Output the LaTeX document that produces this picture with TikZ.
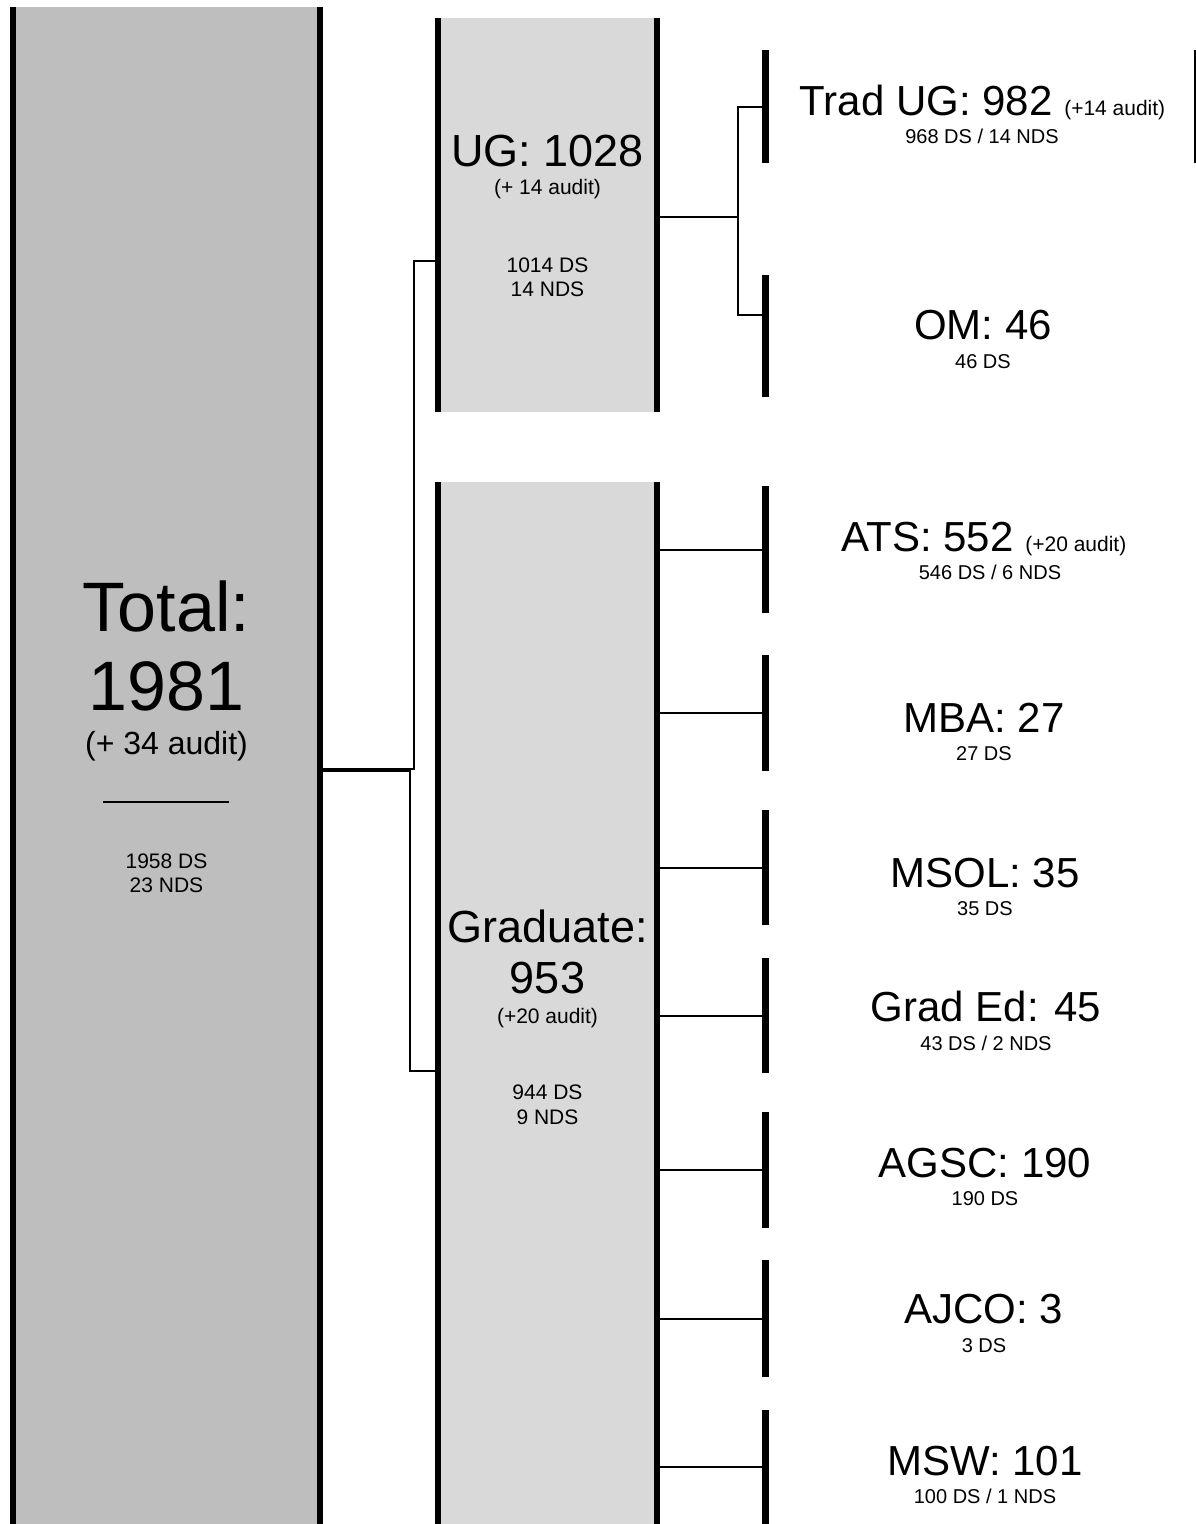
\documentclass[tikz,border=0pt]{standalone}
\usepackage{fontspec}
\setmainfont{Liberation Sans}
\definecolor{bigfill}{HTML}{BEBEBE}
\definecolor{subfill}{HTML}{D9D9D9}
\newcommand\fs[1]{\fontsize{#1}{#1}\selectfont}
\tikzset{
  panel/.style={rectangle, inner sep=0pt, outer sep=0pt, draw=none},
  bigpanel/.style={panel, fill=bigfill},
  subpanel/.style={panel, fill=subfill},
  leafbar/.style={rectangle, inner sep=0pt, outer sep=0pt, fill=black, minimum width=7pt},
  rulebar/.style={rectangle, inner sep=0pt, outer sep=0pt, fill=black, minimum width=126pt, minimum height=2.5pt},
  sideline/.style={line width=6pt},
  conn/.style={line width=2pt},
  thinline/.style={line width=1.5pt},
  lbl/.style={anchor=base, inner sep=0pt, outer sep=0pt, text=black},
}
\begin{document}
\begin{tikzpicture}[x=1pt,y=-1pt]
\useasboundingbox (0,0) rectangle (1196,1524);

% panels
\node[bigpanel, minimum width=307pt, minimum height=1517pt] (total) at (166.5,765.5) {};
\node[subpanel, minimum width=219pt, minimum height=394pt] (ug) at (547.5,215) {};
\node[subpanel, minimum width=219pt, minimum height=1042pt] (grad) at (547.5,1003) {};

% leaf bars
\node[leafbar, minimum height=113pt] (tradbar) at (765.5,106.5) {};
\node[leafbar, minimum height=122pt] (ombar) at (765.5,336) {};
\node[leafbar, minimum height=127pt] (atsbar) at (765.5,549.5) {};
\node[leafbar, minimum height=116pt] (mbabar) at (765.5,713) {};
\node[leafbar, minimum height=115pt] (msolbar) at (765.5,867.5) {};
\node[leafbar, minimum height=115pt] (gradedbar) at (765.5,1015.5) {};
\node[leafbar, minimum height=116pt] (agscbar) at (765.5,1170) {};
\node[leafbar, minimum height=117pt] (ajcobar) at (765.5,1318.5) {};
\node[leafbar, minimum height=114pt] (mswbar) at (765.5,1467) {};

% connectors
\draw[conn] ([yshift=-3.5pt]total.east) -| ([xshift=-24pt,yshift=-46pt]ug.west) -- ([yshift=-46pt]ug.west);
\draw[conn] ([yshift=-5.5pt]total.east) -| ([xshift=-28pt,yshift=-68pt]grad.west) -- ([yshift=-68pt]grad.west);
\draw[conn] ([yshift=-2pt]ug.east) -- ([xshift=81pt,yshift=-2pt]ug.east) coordinate (ugsplit);
\draw[conn] (tradbar.west) -| (ugsplit) |- ([yshift=21pt]ombar.west);
\foreach \b in {atsbar,mbabar,msolbar,gradedbar,agscbar,ajcobar,mswbar}
  \draw[conn] (grad.east |- \b.west) -- (\b.west);

% panel side lines
\foreach \p in {total,ug,grad}{
  \draw[sideline] (\p.north west) -- (\p.south west);
  \draw[sideline] (\p.north east) -- (\p.south east);
}

% clipped edge at right
\coordinate (edgetop) at (1195,50);
\coordinate (edgebot) at (1195,163);
\draw[thinline] (edgetop) -- (edgebot);

% Total labels
\node[lbl] (t1) at (166.5,631) {\fs{70}Total:};
\node[lbl] (t2) at (166.5,710) {\fs{70}1981};
\node[lbl] (t3) at (166.5,754) {\fs{32}(+ 34 audit)};
\node[rulebar] (trule) at (166,802) {};
\node[lbl] (t4) at (166.5,868) {\fs{21}1958 DS};
\node[lbl] (t5) at (166.5,892) {\fs{21}23 NDS};

% UG labels
\node[lbl] (u1) at (547.5,166) {\fs{45}UG: 1028};
\node[lbl] (u2) at (547.5,194) {\fs{21}(+ 14 audit)};
\node[lbl] (u3) at (547.5,272) {\fs{21}1014 DS};
\node[lbl] (u4) at (547.5,296) {\fs{21}14 NDS};

% Graduate labels
\node[lbl] (g1) at (547.5,942) {\fs{45}Graduate:};
\node[lbl] (g2) at (547.5,993) {\fs{45}953};
\node[lbl] (g3) at (547.5,1023) {\fs{21}(+20 audit)};
\node[lbl] (g4) at (547.5,1099) {\fs{21}944 DS};
\node[lbl] (g5) at (547.5,1124) {\fs{21}9 NDS};

% leaf labels
\node[lbl] (trad1) at (982.5,115) {\fs{42}Trad UG: 982 \fs{21}(+14 audit)};
\node[lbl] (trad2) at (982,143) {\fs{20}968 DS / 14 NDS};
\node[lbl] (om1) at (983,339) {\fs{42}OM: 46};
\node[lbl] (om2) at (983,368) {\fs{20}46 DS};
\node[lbl] (ats1) at (984,551) {\fs{42}ATS: 552 \fs{21}(+20 audit)};
\node[lbl] (ats2) at (990,579) {\fs{20}546 DS / 6 NDS};
\node[lbl] (mba1) at (984,732) {\fs{42}MBA: 27};
\node[lbl] (mba2) at (984,760) {\fs{20}27 DS};
\node[lbl] (msol1) at (985,887) {\fs{42}MSOL: 35};
\node[lbl] (msol2) at (985,915) {\fs{20}35 DS};
\node[lbl] (ged1) at (986,1021) {\fs{42}Grad Ed: 45};
\node[lbl] (ged2) at (986,1050) {\fs{20}43 DS / 2 NDS};
\node[lbl] (agsc1) at (985,1177) {\fs{42}AGSC: 190};
\node[lbl] (agsc2) at (985,1205) {\fs{20}190 DS};
\node[lbl] (ajco1) at (984,1323) {\fs{42}AJCO: 3};
\node[lbl] (ajco2) at (984,1352) {\fs{20}3 DS};
\node[lbl] (msw1) at (985,1475) {\fs{42}MSW: 101};
\node[lbl] (msw2) at (985,1503) {\fs{20}100 DS / 1 NDS};
\end{tikzpicture}
\end{document}
